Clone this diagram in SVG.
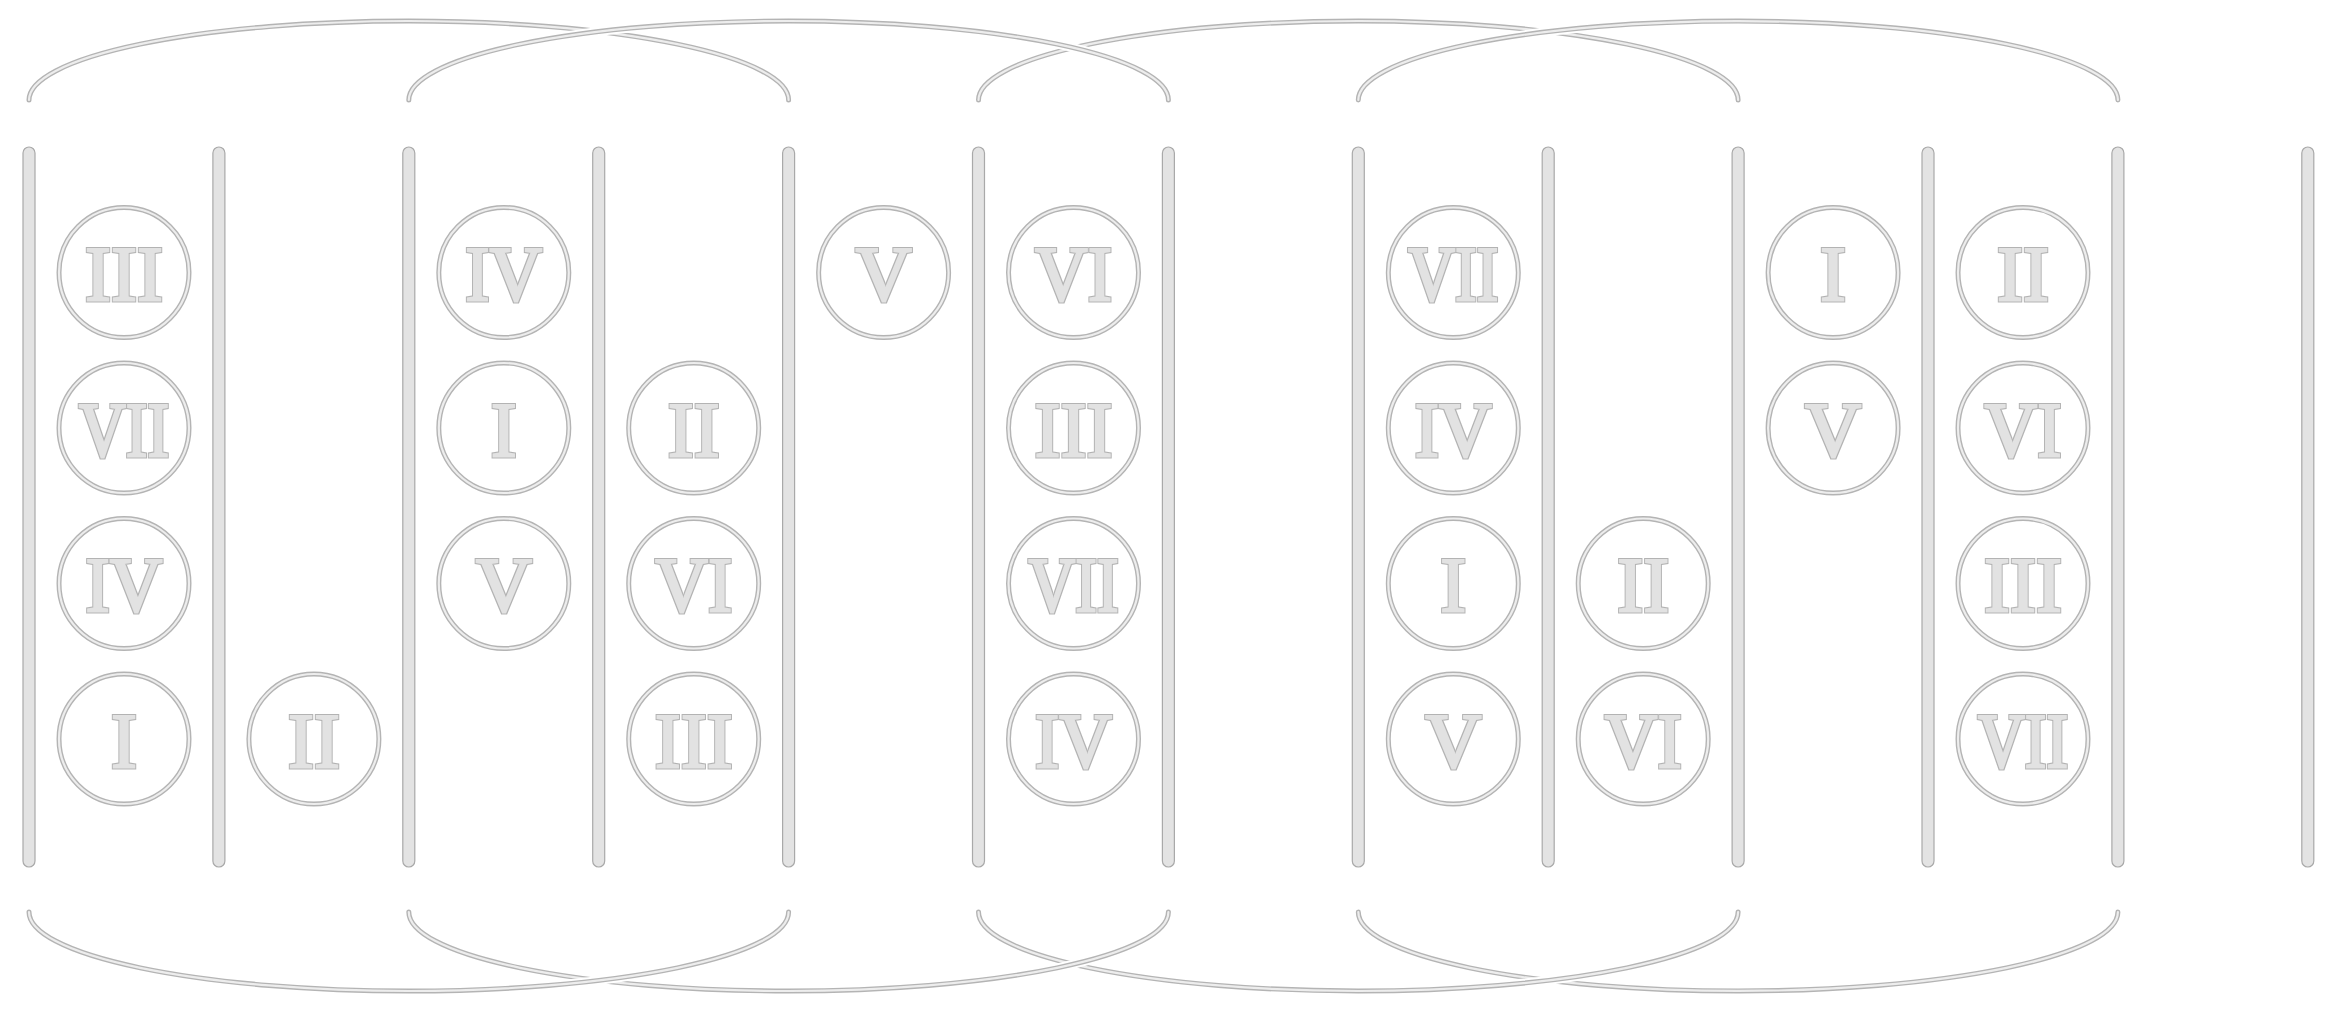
<svg xmlns="http://www.w3.org/2000/svg" width="2338" height="1013" viewBox="0 0 2338 1013">
<style>
.bg{fill:#ffffff}
.bar{fill:#e3e3e3;stroke:#a9a9a9;stroke-width:1.2}
.ro{fill:none;stroke:#b4b4b4;stroke-width:5}
.ri{fill:none;stroke:#ededed;stroke-width:2.2}
.lbl{font-family:"Liberation Serif","Times New Roman",serif;font-size:78px;fill:#000;stroke:none;text-anchor:middle;filter:url(#emb)}
.halo{fill:none;stroke:#ffffff;stroke-width:9;stroke-linecap:butt}
.ao{fill:none;stroke:#b4b4b4;stroke-width:5;stroke-linecap:round}
.ai{fill:none;stroke:#ededed;stroke-width:2.2;stroke-linecap:round}
</style>
<defs>
<filter id="emb" x="-10%" y="-10%" width="120%" height="120%">
<feMorphology in="SourceAlpha" operator="dilate" radius="2.1" result="d2"/>
<feFlood flood-color="#b3b3b3" result="c2"/>
<feComposite in="c2" in2="d2" operator="in" result="outline"/>
<feMorphology in="SourceAlpha" operator="dilate" radius="1.1" result="d1"/>
<feFlood flood-color="#e2e2e2" result="c1"/>
<feComposite in="c1" in2="d1" operator="in" result="inner"/>
<feMerge><feMergeNode in="outline"/><feMergeNode in="inner"/></feMerge>
</filter>
<path id="t04" d="M29 100 A379.8 79 0 0 1 788.6 100"/>
<path id="t26" d="M408.8 100 A379.8 79 0 0 1 1168.4 100"/>
<path id="t59" d="M978.5 100 A379.8 79 0 0 1 1738.1 100"/>
<path id="t711" d="M1358.3 100 A379.8 79 0 0 1 2117.9 100"/>
<path id="b04" d="M29 912 A379.8 79 0 0 0 788.6 912"/>
<path id="b26" d="M408.8 912 A379.8 79 0 0 0 1168.4 912"/>
<path id="b59" d="M978.5 912 A379.8 79 0 0 0 1738.1 912"/>
<path id="b711" d="M1358.3 912 A379.8 79 0 0 0 2117.9 912"/>
</defs>
<rect class="bg" x="0" y="0" width="2338" height="1013"/>

<g id="connectors">
<use href="#t04" class="halo"/><use href="#t04" class="ao"/><use href="#t04" class="ai"/>
<use href="#t59" class="halo"/><use href="#t59" class="ao"/><use href="#t59" class="ai"/>
<use href="#t26" class="halo"/><use href="#t26" class="ao"/><use href="#t26" class="ai"/>
<use href="#t711" class="halo"/><use href="#t711" class="ao"/><use href="#t711" class="ai"/>
<use href="#b711" class="halo"/><use href="#b711" class="ao"/><use href="#b711" class="ai"/>
<use href="#b59" class="halo"/><use href="#b59" class="ao"/><use href="#b59" class="ai"/>
<use href="#b26" class="halo"/><use href="#b26" class="ao"/><use href="#b26" class="ai"/>
<use href="#b04" class="halo"/><use href="#b04" class="ao"/><use href="#b04" class="ai"/>
</g>

<g id="bars">
<g id="bar0"><rect class="bar" x="23" y="147" width="12" height="720" rx="6"/></g>
<g id="bar1"><rect class="bar" x="212.9" y="147" width="12" height="720" rx="6"/></g>
<g id="bar2"><rect class="bar" x="402.8" y="147" width="12" height="720" rx="6"/></g>
<g id="bar3"><rect class="bar" x="592.7" y="147" width="12" height="720" rx="6"/></g>
<g id="bar4"><rect class="bar" x="782.6" y="147" width="12" height="720" rx="6"/></g>
<g id="bar5"><rect class="bar" x="972.5" y="147" width="12" height="720" rx="6"/></g>
<g id="bar6"><rect class="bar" x="1162.4" y="147" width="12" height="720" rx="6"/></g>
<g id="bar7"><rect class="bar" x="1352.3" y="147" width="12" height="720" rx="6"/></g>
<g id="bar8"><rect class="bar" x="1542.2" y="147" width="12" height="720" rx="6"/></g>
<g id="bar9"><rect class="bar" x="1732.1" y="147" width="12" height="720" rx="6"/></g>
<g id="bar10"><rect class="bar" x="1922" y="147" width="12" height="720" rx="6"/></g>
<g id="bar11"><rect class="bar" x="2111.9" y="147" width="12" height="720" rx="6"/></g>
<g id="bar12"><rect class="bar" x="2301.8" y="147" width="12" height="720" rx="6"/></g>
</g>

<g id="nodes">
<g id="n0-0"><circle class="ro" cx="124" cy="272.5" r="65"/><circle class="ri" cx="124" cy="272.5" r="65"/><text class="lbl" x="124" y="300">III</text></g>
<g id="n0-1"><circle class="ro" cx="124" cy="428" r="65"/><circle class="ri" cx="124" cy="428" r="65"/><text class="lbl" x="124" y="455.5" textLength="90" lengthAdjust="spacingAndGlyphs">VII</text></g>
<g id="n0-2"><circle class="ro" cx="124" cy="583.5" r="65"/><circle class="ri" cx="124" cy="583.5" r="65"/><text class="lbl" x="124" y="611" textLength="77" lengthAdjust="spacingAndGlyphs">IV</text></g>
<g id="n0-3"><circle class="ro" cx="124" cy="739" r="65"/><circle class="ri" cx="124" cy="739" r="65"/><text class="lbl" x="124" y="766.5">I</text></g>

<g id="n1-3"><circle class="ro" cx="313.9" cy="739" r="65"/><circle class="ri" cx="313.9" cy="739" r="65"/><text class="lbl" x="313.9" y="766.5">II</text></g>

<g id="n2-0"><circle class="ro" cx="503.8" cy="272.5" r="65"/><circle class="ri" cx="503.8" cy="272.5" r="65"/><text class="lbl" x="503.8" y="300" textLength="77" lengthAdjust="spacingAndGlyphs">IV</text></g>
<g id="n2-1"><circle class="ro" cx="503.8" cy="428" r="65"/><circle class="ri" cx="503.8" cy="428" r="65"/><text class="lbl" x="503.8" y="455.5">I</text></g>
<g id="n2-2"><circle class="ro" cx="503.8" cy="583.5" r="65"/><circle class="ri" cx="503.8" cy="583.5" r="65"/><text class="lbl" x="503.8" y="611">V</text></g>

<g id="n3-1"><circle class="ro" cx="693.7" cy="428" r="65"/><circle class="ri" cx="693.7" cy="428" r="65"/><text class="lbl" x="693.7" y="455.5">II</text></g>
<g id="n3-2"><circle class="ro" cx="693.7" cy="583.5" r="65"/><circle class="ri" cx="693.7" cy="583.5" r="65"/><text class="lbl" x="693.7" y="611" textLength="77" lengthAdjust="spacingAndGlyphs">VI</text></g>
<g id="n3-3"><circle class="ro" cx="693.7" cy="739" r="65"/><circle class="ri" cx="693.7" cy="739" r="65"/><text class="lbl" x="693.7" y="766.5">III</text></g>

<g id="n4-0"><circle class="ro" cx="883.6" cy="272.5" r="65"/><circle class="ri" cx="883.6" cy="272.5" r="65"/><text class="lbl" x="883.6" y="300">V</text></g>

<g id="n5-0"><circle class="ro" cx="1073.5" cy="272.5" r="65"/><circle class="ri" cx="1073.5" cy="272.5" r="65"/><text class="lbl" x="1073.5" y="300" textLength="77" lengthAdjust="spacingAndGlyphs">VI</text></g>
<g id="n5-1"><circle class="ro" cx="1073.5" cy="428" r="65"/><circle class="ri" cx="1073.5" cy="428" r="65"/><text class="lbl" x="1073.5" y="455.5">III</text></g>
<g id="n5-2"><circle class="ro" cx="1073.5" cy="583.5" r="65"/><circle class="ri" cx="1073.5" cy="583.5" r="65"/><text class="lbl" x="1073.5" y="611" textLength="90" lengthAdjust="spacingAndGlyphs">VII</text></g>
<g id="n5-3"><circle class="ro" cx="1073.5" cy="739" r="65"/><circle class="ri" cx="1073.5" cy="739" r="65"/><text class="lbl" x="1073.5" y="766.5" textLength="77" lengthAdjust="spacingAndGlyphs">IV</text></g>

<g id="n7-0"><circle class="ro" cx="1453.3" cy="272.5" r="65"/><circle class="ri" cx="1453.3" cy="272.5" r="65"/><text class="lbl" x="1453.3" y="300" textLength="90" lengthAdjust="spacingAndGlyphs">VII</text></g>
<g id="n7-1"><circle class="ro" cx="1453.3" cy="428" r="65"/><circle class="ri" cx="1453.3" cy="428" r="65"/><text class="lbl" x="1453.3" y="455.5" textLength="77" lengthAdjust="spacingAndGlyphs">IV</text></g>
<g id="n7-2"><circle class="ro" cx="1453.3" cy="583.5" r="65"/><circle class="ri" cx="1453.3" cy="583.5" r="65"/><text class="lbl" x="1453.3" y="611">I</text></g>
<g id="n7-3"><circle class="ro" cx="1453.3" cy="739" r="65"/><circle class="ri" cx="1453.3" cy="739" r="65"/><text class="lbl" x="1453.3" y="766.5">V</text></g>

<g id="n8-2"><circle class="ro" cx="1643.2" cy="583.5" r="65"/><circle class="ri" cx="1643.2" cy="583.5" r="65"/><text class="lbl" x="1643.2" y="611">II</text></g>
<g id="n8-3"><circle class="ro" cx="1643.2" cy="739" r="65"/><circle class="ri" cx="1643.2" cy="739" r="65"/><text class="lbl" x="1643.2" y="766.5" textLength="77" lengthAdjust="spacingAndGlyphs">VI</text></g>

<g id="n9-0"><circle class="ro" cx="1833.1" cy="272.5" r="65"/><circle class="ri" cx="1833.1" cy="272.5" r="65"/><text class="lbl" x="1833.1" y="300">I</text></g>
<g id="n9-1"><circle class="ro" cx="1833.1" cy="428" r="65"/><circle class="ri" cx="1833.1" cy="428" r="65"/><text class="lbl" x="1833.1" y="455.5">V</text></g>

<g id="n10-0"><circle class="ro" cx="2023" cy="272.5" r="65"/><circle class="ri" cx="2023" cy="272.5" r="65"/><text class="lbl" x="2023" y="300">II</text></g>
<g id="n10-1"><circle class="ro" cx="2023" cy="428" r="65"/><circle class="ri" cx="2023" cy="428" r="65"/><text class="lbl" x="2023" y="455.5" textLength="77" lengthAdjust="spacingAndGlyphs">VI</text></g>
<g id="n10-2"><circle class="ro" cx="2023" cy="583.5" r="65"/><circle class="ri" cx="2023" cy="583.5" r="65"/><text class="lbl" x="2023" y="611">III</text></g>
<g id="n10-3"><circle class="ro" cx="2023" cy="739" r="65"/><circle class="ri" cx="2023" cy="739" r="65"/><text class="lbl" x="2023" y="766.5" textLength="90" lengthAdjust="spacingAndGlyphs">VII</text></g>
</g>
</svg>
